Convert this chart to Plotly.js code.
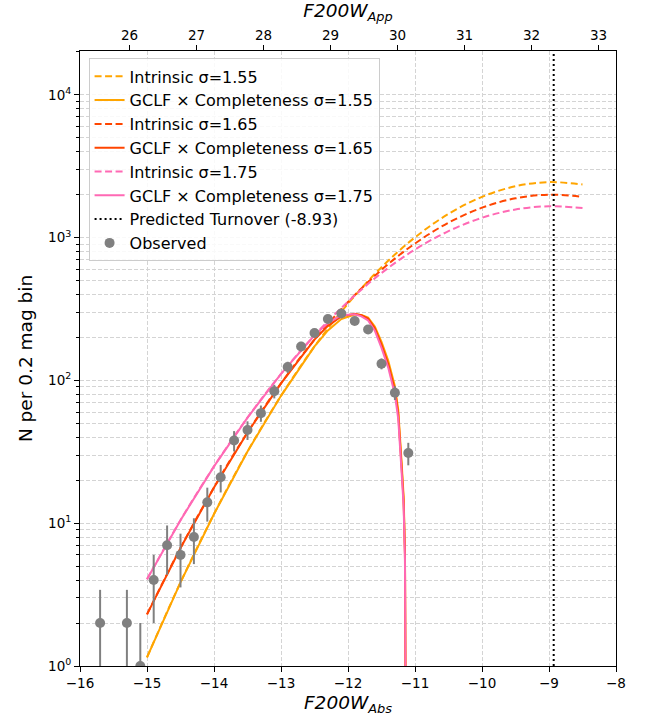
<!DOCTYPE html>
<html><head><meta charset="utf-8">
<script src="https://cdn.plot.ly/plotly-3.0.1.min.js"></script>
<style>html,body{margin:0;padding:0;background:#fff}#chart{width:649px;height:721px}</style>
</head><body><div id="chart"></div>
<script>
// Observed counts per 0.2 mag bin (absolute F200W magnitude)
const observedMag = [-15.7, -15.3, -15.1, -14.9, -14.7, -14.5, -14.3, -14.1, -13.9, -13.7, -13.5, -13.3, -13.1, -12.9, -12.7, -12.5, -12.3, -12.1, -11.9, -11.7, -11.5, -11.3, -11.1];
const observedN = [2, 2, 1, 4, 7, 6, 8, 14, 21, 38, 45, 59, 84, 124, 173, 215, 269, 294, 261, 227, 131, 82, 31];
const observedErr = observedN.map(Math.sqrt);

// Intrinsic GCLF curves (dashed)
const intrinsicMag = [-15, -14.5, -14, -13.5, -13, -12.5, -12, -11.5, -11, -10.5, -10, -9.5, -9, -8.5];
const intrinsic155 = [1.15, 3.85, 11.6, 31.8, 78.0, 173, 345, 620, 1004, 1467, 1931, 2290, 2448, 2357];
const intrinsic165 = [2.30, 6.71, 17.8, 43.2, 95.4, 193, 354, 595, 910, 1272, 1621, 1884, 1998, 1933];
const intrinsic175 = [4.05, 10.5, 25.0, 54.9, 111, 207, 356, 565, 825, 1110, 1377, 1574, 1659, 1611];

// GCLF x Completeness curves (solid)
const gclfMag = [-15, -14.5, -14, -13.5, -13, -12.5, -12.3, -12.1, -11.9, -11.8, -11.7, -11.6, -11.5, -11.4, -11.3, -11.25, -11.2, -11.17, -11.15, -11.14, -11.13];
const gclf155 = [1.15, 3.85, 11.6, 31.8, 78.0, 173, 224, 269, 289, 287, 275, 239, 186, 138, 91, 62.3, 26.8, 15.5, 6.6, 2.2, 0.05];
const gclf165 = [2.30, 6.71, 17.8, 43.2, 95.4, 193, 241, 281, 293, 286, 271, 232, 178, 130, 85.6, 58.0, 24.8, 14.3, 6.1, 2.0, 0.05];
const gclf175 = [4.05, 10.5, 25.0, 54.9, 111, 207, 252, 286, 291, 281, 263, 223, 169, 123, 79.6, 53.8, 22.9, 13.2, 5.6, 1.9, 0.05];

const turnoverMag = -8.93;
const absRange = [-16, -8];
const appRange = [25.26, 33.26];
const yLogRange = [0, 4.307];
const yTickVals = [1, 10, 100, 1000, 10000];
const yTickText = ['10<sup>0</sup>', '10<sup>1</sup>', '10<sup>2</sup>', '10<sup>3</sup>', '10<sup>4</sup>'];

const cOrange = '#FFA500', cRed = '#FF4500', cPink = '#FF69B4';
const dashPat = '7px,3.5px';
const gridCol = '#d4d4d4';
const gridDash = '4px,2px';

const traces = [
  {x: intrinsicMag, y: intrinsic155, mode: 'lines', name: 'Intrinsic σ=1.55', line: {color: cOrange, width: 2, dash: dashPat, shape: 'spline', smoothing: 1}},
  {x: gclfMag, y: gclf155, mode: 'lines', name: 'GCLF × Completeness σ=1.55', line: {color: cOrange, width: 2}},
  {x: intrinsicMag, y: intrinsic165, mode: 'lines', name: 'Intrinsic σ=1.65', line: {color: cRed, width: 2, dash: dashPat, shape: 'spline', smoothing: 1}},
  {x: gclfMag, y: gclf165, mode: 'lines', name: 'GCLF × Completeness σ=1.65', line: {color: cRed, width: 2}},
  {x: intrinsicMag, y: intrinsic175, mode: 'lines', name: 'Intrinsic σ=1.75', line: {color: cPink, width: 2, dash: dashPat, shape: 'spline', smoothing: 1}},
  {x: gclfMag, y: gclf175, mode: 'lines', name: 'GCLF × Completeness σ=1.75', line: {color: cPink, width: 2}},
  {x: [turnoverMag, turnoverMag], y: [Math.pow(10, yLogRange[0]), Math.pow(10, yLogRange[1])], mode: 'lines',
   name: 'Predicted Turnover (' + turnoverMag.toFixed(2) + ')', line: {color: '#000', width: 2, dash: '2px,3px'}},
  {x: observedMag, y: observedN, mode: 'markers', name: 'Observed',
   marker: {color: '#808080', size: 10},
   error_y: {type: 'data', array: observedErr, visible: true, color: '#808080', thickness: 2, width: 0}},
  {x: appRange, y: [1, 1], xaxis: 'x2', mode: 'lines', showlegend: false, hoverinfo: 'skip', line: {width: 0, color: 'rgba(0,0,0,0)'}}
];

const layout = {
  width: 649, height: 721,
  paper_bgcolor: '#fff', plot_bgcolor: '#fff',
  font: {family: 'DejaVu Sans, sans-serif', size: 13.5, color: '#000'},
  margin: {l: 80, r: 33, t: 51, b: 55},
  showlegend: true,
  legend: {x: 0.016, y: 0.988, xanchor: 'left', yanchor: 'top', bgcolor: 'rgba(255,255,255,0.85)',
           bordercolor: '#cccccc', borderwidth: 1, font: {size: 16}},
  xaxis: {range: absRange, dtick: 1, tick0: -16, ticks: 'outside', ticklen: 5, tickcolor: '#000',
          showline: true, linecolor: '#000', linewidth: 1, mirror: true,
          showgrid: true, gridcolor: gridCol, griddash: gridDash, zeroline: false,
          title: {text: '<i>F200W<sub>Abs</sub></i>', font: {size: 18.5}, standoff: 5}},
  xaxis2: {range: appRange, overlaying: 'x', side: 'top', anchor: 'y', dtick: 1, tick0: 26,
           ticks: 'outside', ticklen: 5, tickcolor: '#000', showgrid: false, zeroline: false,
           title: {text: '<i>F200W<sub>App</sub></i>', font: {size: 18.5}, standoff: 5}},
  yaxis: {type: 'log', range: yLogRange, tickmode: 'array', tickvals: yTickVals, ticktext: yTickText,
          ticks: 'outside', ticklen: 5, tickcolor: '#000',
          showline: true, linecolor: '#000', linewidth: 1, mirror: true,
          showgrid: true, gridcolor: gridCol, griddash: gridDash, zeroline: false,
          minor: {ticks: 'outside', ticklen: 3, tickcolor: '#000', showgrid: true, gridcolor: gridCol, griddash: gridDash, dtick: 'D1'},
          title: {text: 'N per 0.2 mag bin', font: {size: 18.5}, standoff: 10}}
};

Plotly.newPlot('chart', traces, layout, {displayModeBar: false, staticPlot: true});
</script>
</body></html>
